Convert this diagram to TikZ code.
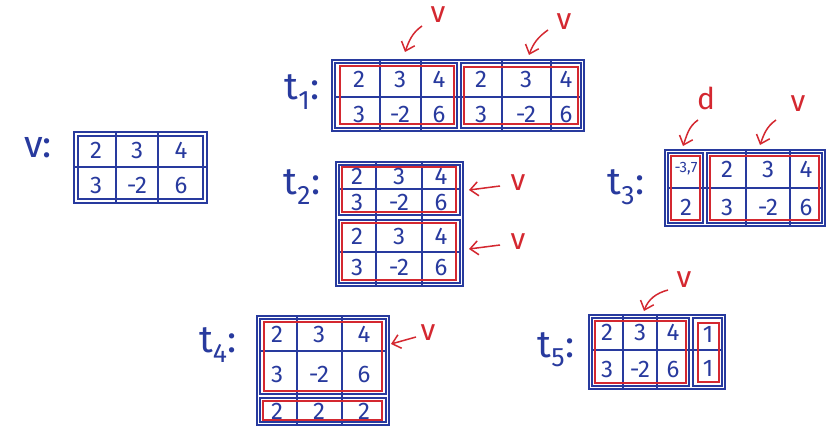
\documentclass[tikz,border=0pt]{standalone}
\usepackage{fontspec}
\setmainfont{Fira Sans}
\usetikzlibrary{arrows.meta}
\definecolor{penblue}{RGB}{40,58,158}
\definecolor{penred}{RGB}{212,40,48}
\tikzset{
  bl/.style={draw=penblue, line width=1.4pt},
  rd/.style={draw=penred, line width=1.4pt},
  num/.style={text=penblue, font=\fontsize{24}{24}\selectfont, inner sep=0pt},
  small/.style={text=penblue, font=\fontsize{15}{15}\selectfont, inner sep=0pt},
  lab/.style={text=penblue, font=\fontsize{38}{38}\selectfont, inner sep=0pt},
  rlab/.style={text=penred, font=\fontsize{30}{30}\selectfont, inner sep=0pt},
  rarr/.style={draw=penred, line width=1.5pt, -{Straight Barb[length=8pt,width=14pt]}}
}
\begin{document}
\begin{tikzpicture}[x=1pt,y=-1pt]
\useasboundingbox (0,0) rectangle (827,428);
\fill[white] (0,0) rectangle (827,428);

% ---------- v ----------
\node[lab] (lv) at (38,148) {v:};
\draw[bl] (74,132) rectangle (207,203);
\draw[bl] (78,136) rectangle (203,199);
\draw[bl] (116,132) -- (116,203) (158,132) -- (158,203) (74,167) -- (207,167);
\node[num] (v11) at (96,150) {2};
\node[num] (v12) at (137,150) {3};
\node[num] (v13) at (181,150) {4};
\node[num] (v21) at (96,185) {3};
\node[num] (v22) at (137,185) {-2};
\node[num] (v23) at (181,185) {6};

% ---------- t1 ----------
\node[lab] (lt1) at (302,92) {t\textsubscript{1}:};
\draw[bl] (332,60) rectangle (584,131);
\draw[bl] (335,63) rectangle (457,128);
\draw[bl] (461,63) rectangle (581,128);
\draw[bl] (380,60) -- (380,131) (421,60) -- (421,131)
          (502,60) -- (502,131) (551,60) -- (551,131)
          (335,97) -- (581,97);
\draw[rd] (340,66) rectangle (454,124);
\draw[rd] (464,67) rectangle (578,124);
\node[num] (a11) at (359,79) {2};
\node[num] (a12) at (400,79) {3};
\node[num] (a13) at (439,79) {4};
\node[num] (a21) at (359,114) {3};
\node[num] (a22) at (400,114) {-2};
\node[num] (a23) at (439,114) {6};
\node[num] (a14) at (481,79) {2};
\node[num] (a15) at (526,79) {3};
\node[num] (a16) at (566,79) {4};
\node[num] (a24) at (481,114) {3};
\node[num] (a25) at (526,114) {-2};
\node[num] (a26) at (566,114) {6};
\node[rlab] (v1a) at (438,15) {v};
\coordinate (s1a) at (422,26);
\coordinate (e1a) at (405,52);
\draw[rarr] (s1a) to[out=215,in=70] (e1a);
\node[rlab] (v1b) at (564,22) {v};
\coordinate (s1b) at (548,30);
\coordinate (e1b) at (529,55);
\draw[rarr] (s1b) to[out=215,in=70] (e1b);

% ---------- t2 ----------
\node[lab] (lt2) at (302,187) {t\textsubscript{2}:};
\draw[bl] (336,162) rectangle (463,286);
\draw[bl] (339,165) rectangle (460,215);
\draw[bl] (339,220) rectangle (460,283);
\draw[bl] (376,162) -- (376,286) (422,162) -- (422,286)
          (339,189) -- (460,189) (339,252) -- (460,252);
\draw[rd] (342,167) rectangle (456,212);
\draw[rd] (342,223) rectangle (456,280);
\node[num] (b11) at (357,176) {2};
\node[num] (b12) at (399,176) {3};
\node[num] (b13) at (441,176) {4};
\node[num] (b21) at (357,202) {3};
\node[num] (b22) at (399,202) {-2};
\node[num] (b23) at (441,202) {6};
\node[num] (b31) at (357,236) {2};
\node[num] (b32) at (399,236) {3};
\node[num] (b33) at (441,236) {4};
\node[num] (b41) at (357,267) {3};
\node[num] (b42) at (399,267) {-2};
\node[num] (b43) at (441,267) {6};
\node[rlab] (v2a) at (518,183) {v};
\coordinate (s2a) at (500,186);
\coordinate (e2a) at (469,190);
\draw[rarr] (s2a) -- (e2a);
\node[rlab] (v2b) at (518,242) {v};
\coordinate (s2b) at (500,245);
\coordinate (e2b) at (469,249);
\draw[rarr] (s2b) -- (e2b);

% ---------- t3 ----------
\node[lab] (lt3) at (626,187) {t\textsubscript{3}:};
\draw[bl] (665,150) rectangle (825,226);
\draw[bl] (668,153) rectangle (703,223);
\draw[bl] (707,153) rectangle (822,223);
\draw[bl] (746,150) -- (746,226) (790,150) -- (790,226) (668,188) -- (822,188);
\draw[rd] (671,156) rectangle (700,220);
\draw[rd] (710,156) rectangle (819,220);
\node[small] (c11) at (686,169) {-3,7};
\node[num] (c21) at (686,207) {2};
\node[num] (c12) at (727,169) {2};
\node[num] (c13) at (768,169) {3};
\node[num] (c14) at (806,169) {4};
\node[num] (c22) at (727,207) {3};
\node[num] (c23) at (768,207) {-2};
\node[num] (c24) at (806,207) {6};
\node[rlab] (d3) at (706,98) {d};
\coordinate (s3a) at (698,120);
\coordinate (e3a) at (683,146);
\draw[rarr] (s3a) to[out=215,in=70] (e3a);
\node[rlab] (v3) at (798,104) {v};
\coordinate (s3b) at (776,120);
\coordinate (e3b) at (760,145);
\draw[rarr] (s3b) to[out=215,in=70] (e3b);

% ---------- t4 ----------
\node[lab] (lt4) at (218,345) {t\textsubscript{4}:};
\draw[bl] (257,316) rectangle (389,425);
\draw[bl] (260,319) rectangle (386,394);
\draw[bl] (260,398) rectangle (386,422);
\draw[bl] (297,316) -- (297,425) (342,316) -- (342,425) (260,351) -- (386,351);
\draw[rd] (264,322) rectangle (382,391);
\draw[rd] (263,401) rectangle (382,420);
\node[num] (d11) at (277,334) {2};
\node[num] (d12) at (319,334) {3};
\node[num] (d13) at (364,334) {4};
\node[num] (d21) at (277,374) {3};
\node[num] (d22) at (319,374) {-2};
\node[num] (d23) at (364,374) {6};
\node[num] (d31) at (277,411) {2};
\node[num] (d32) at (319,411) {2};
\node[num] (d33) at (364,411) {2};
\node[rlab] (v4) at (428,333) {v};
\coordinate (s4) at (416,337);
\coordinate (e4) at (391,344);
\draw[rarr] (s4) -- (e4);

% ---------- t5 ----------
\node[lab] (lt5) at (556,350) {t\textsubscript{5}:};
\draw[bl] (589,315) rectangle (725,389);
\draw[bl] (592,318) rectangle (689,386);
\draw[bl] (693,318) rectangle (722,386);
\draw[bl] (623,315) -- (623,389) (657,315) -- (657,389) (592,350) -- (722,350);
\draw[rd] (595,321) rectangle (686,383);
\draw[rd] (698,323) rectangle (719,382);
\node[num] (e11) at (607,332) {2};
\node[num] (e12) at (640,332) {3};
\node[num] (e13) at (673,332) {4};
\node[num] (e21) at (607,369) {3};
\node[num] (e22) at (640,369) {-2};
\node[num] (e23) at (673,369) {6};
\node[num] (e14) at (708,334) {1};
\node[num] (e24) at (708,368) {1};
\node[rlab] (v5) at (684,280) {v};
\coordinate (s5) at (668,290);
\coordinate (e5) at (644,311);
\draw[rarr] (s5) to[out=195,in=70] (e5);
\end{tikzpicture}
\end{document}
